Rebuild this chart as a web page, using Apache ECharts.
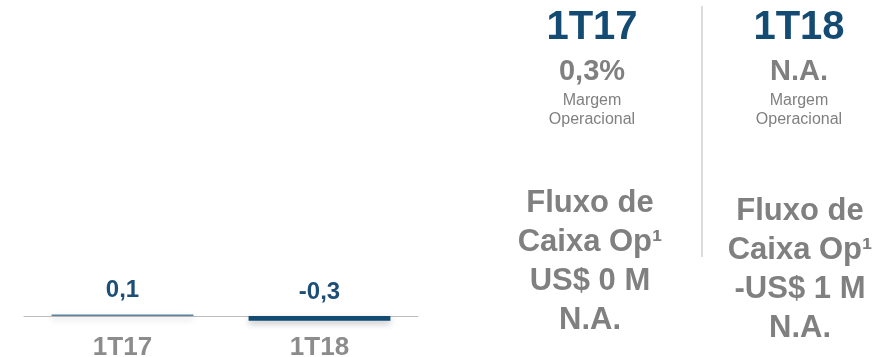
<!DOCTYPE html>
<html>
<head>
<meta charset="utf-8">
<script src="https://cdn.jsdelivr.net/npm/echarts@6/dist/echarts.min.js"></script>
<style>
  html, body { margin: 0; padding: 0; background: #ffffff; }
  #chart { width: 875px; height: 357px; }
</style>
</head>
<body>
<div id="chart"></div>
<script>
// Quarterly values (US$ M) shown in the small bar chart
const categories = ['1T17', '1T18'];
const values = [0.1, -0.3];

// Side panel: quarter headings, operating margin and operating cash flow
const panelQuarters = ['1T17', '1T18'];
const marginValues = ['0,3%', 'N.A.'];
const marginCaption = ['Margem', 'Operacional'];
const cashFlowLines = [
  ['Fluxo de', 'Caixa Op¹', 'US$ 0 M', 'N.A.'],
  ['Fluxo de', 'Caixa Op¹', '-US$ 1 M', 'N.A.']
];

const FONT = '"Liberation Sans", Arial, sans-serif';
const barColors = ['#5b83a0', '#134b73'];
const dark = '#134b73';
const gray = '#808080';

function fmt(v) {
  return String(v).replace('.', ',');
}

const chart = echarts.init(document.getElementById('chart'), null, { renderer: 'canvas' });

// Side panel text blocks
const graphics = [];
const colX = [592, 799];
panelQuarters.forEach((q, i) => {
  graphics.push({
    type: 'text', x: colX[i], y: 27.5,
    style: { text: q, fill: dark, font: 'bold 40px ' + FONT, align: 'center', verticalAlign: 'middle' }
  });
  graphics.push({
    type: 'text', x: colX[i], y: 72,
    style: { text: marginValues[i], fill: gray, font: 'bold 29px ' + FONT, align: 'center', verticalAlign: 'middle' }
  });
  marginCaption.forEach((t, k) => {
    graphics.push({
      type: 'text', x: colX[i], y: 100.5 + k * 19.5,
      style: { text: t, fill: gray, font: '16px ' + FONT, align: 'center', verticalAlign: 'middle' }
    });
  });
});
const flowX = [590, 800];
const flowTop = [203, 211];
cashFlowLines.forEach((lines, i) => {
  lines.forEach((t, k) => {
    graphics.push({
      type: 'text', x: flowX[i], y: flowTop[i] + k * 39.3,
      style: { text: t, fill: gray, font: 'bold 31px ' + FONT, align: 'center', verticalAlign: 'middle' }
    });
  });
});
graphics.push({
  type: 'line',
  shape: { x1: 702, y1: 6, x2: 702, y2: 257 },
  style: { stroke: '#dcdcdc', lineWidth: 2 }
});

chart.setOption({
  animation: false,
  backgroundColor: '#ffffff',
  // the category axis sits on the zero line at the bottom of the grid;
  // negative bars are allowed to extend below it (clip: false)
  grid: { left: 24, right: 457, top: 161, bottom: 41, containLabel: false, outerBoundsMode: 'none' },
  xAxis: {
    type: 'category',
    data: categories,
    axisLine: { onZero: false, lineStyle: { color: '#bdbdbd', width: 1 } },
    axisTick: { show: false },
    axisLabel: {
      color: '#8c8c8c', fontFamily: FONT, fontWeight: 'bold', fontSize: 26, margin: 19,
      hideOverlap: false
    },
    z: 1
  },
  yAxis: {
    type: 'value',
    min: 0, max: 10,
    show: false,
    splitLine: { show: false }
  },
  series: [{
    type: 'bar',
    clip: false,
    z: 3,
    barWidth: '72%',
    data: values.map((v, i) => ({
      value: v,
      itemStyle: {
        color: barColors[i],
        shadowColor: 'rgba(0,0,0,0.25)', shadowBlur: 6, shadowOffsetY: 3
      }
    })),
    label: {
      show: true,
      position: 'top',
      distance: 12,
      formatter: p => fmt(p.value),
      color: '#1d4f76', fontFamily: FONT, fontWeight: 'bold', fontSize: 24
    }
  }],
  graphic: graphics
});
</script>
</body>
</html>
